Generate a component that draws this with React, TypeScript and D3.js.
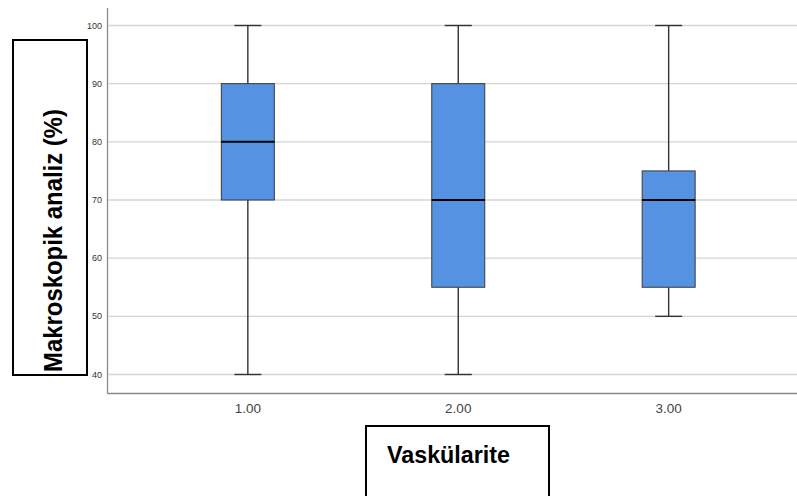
import React from "react";
import * as d3 from "d3";

const categories = ["1.00", "2.00", "3.00"];
const mins = [40, 40, 50];
const q1s = [70, 55, 55];
const medians = [80, 70, 70];
const q3s = [90, 90, 75];
const maxs = [100, 100, 100];
const yTicks = [40, 50, 60, 70, 80, 90, 100];
const yTitle = "Makroskopik analiz (%)";
const xTitle = "Vaskülarite";

const W = 797;
const H = 496;

export default function App() {
  const x = d3.scalePoint<string>().domain(categories).range([107.5, 809]).padding(0.667);
  const y = d3.scaleLinear().domain([40, 100]).range([374.5, 25.5]);
  const boxW = 53;
  const capW = 27;
  const axisX = 107.5;
  const axisY = 393.5;

  return (
    <svg
      width={W}
      height={H}
      style={{ position: "absolute", left: 0, top: 0, background: "#fff" }}
      fontFamily="'Liberation Sans', Arial, sans-serif"
    >
      <rect x={0} y={0} width={W} height={H} fill="#fff" />
      {yTicks.map((t) => (
        <g key={t}>
          <line x1={axisX + 1} x2={W} y1={y(t)} y2={y(t)} stroke="#d4d4d4" strokeWidth={1.3} />
          <text x={102} y={y(t)} dy="0.35em" textAnchor="end" fontSize={9} fill="#333">
            {t}
          </text>
        </g>
      ))}
      <line x1={axisX} x2={axisX} y1={8} y2={axisY} stroke="#8a8a8a" strokeWidth={1.3} />
      <line x1={axisX} x2={W} y1={axisY} y2={axisY} stroke="#8a8a8a" strokeWidth={1.3} />
      {categories.map((c, i) => {
        const cx = x(c) as number;
        return (
          <g key={c}>
            <line x1={cx} x2={cx} y1={y(maxs[i])} y2={y(q3s[i])} stroke="#333" strokeWidth={1.4} />
            <line x1={cx} x2={cx} y1={y(q1s[i])} y2={y(mins[i])} stroke="#333" strokeWidth={1.4} />
            <line x1={cx - capW / 2} x2={cx + capW / 2} y1={y(maxs[i])} y2={y(maxs[i])} stroke="#333" strokeWidth={1.4} />
            <line x1={cx - capW / 2} x2={cx + capW / 2} y1={y(mins[i])} y2={y(mins[i])} stroke="#333" strokeWidth={1.4} />
            <rect
              x={cx - boxW / 2}
              y={y(q3s[i])}
              width={boxW}
              height={y(q1s[i]) - y(q3s[i])}
              fill="#5592e1"
              stroke="#3a3a3a"
              strokeWidth={1}
            />
            <line x1={cx - boxW / 2} x2={cx + boxW / 2} y1={y(medians[i])} y2={y(medians[i])} stroke="#000" strokeWidth={2} />
            <text x={cx} y={413} textAnchor="middle" fontSize={13.5} fill="#444">
              {c}
            </text>
          </g>
        );
      })}
      <rect x={13} y={40} width={74} height={335} fill="none" stroke="#000" strokeWidth={2} />
      <text
        transform="translate(62,240.5) rotate(-90)"
        textAnchor="middle"
        fontSize={26}
        fontWeight="bold"
        fill="#000"
        textLength={263}
        lengthAdjust="spacingAndGlyphs"
      >
        {yTitle}
      </text>
      <rect x={366} y={426} width={183} height={80} fill="none" stroke="#000" strokeWidth={2} />
      <text
        x={387}
        y={463}
        fontSize={24}
        fontWeight="bold"
        fill="#000"
        textLength={123}
        lengthAdjust="spacingAndGlyphs"
      >
        {xTitle}
      </text>
    </svg>
  );
}
